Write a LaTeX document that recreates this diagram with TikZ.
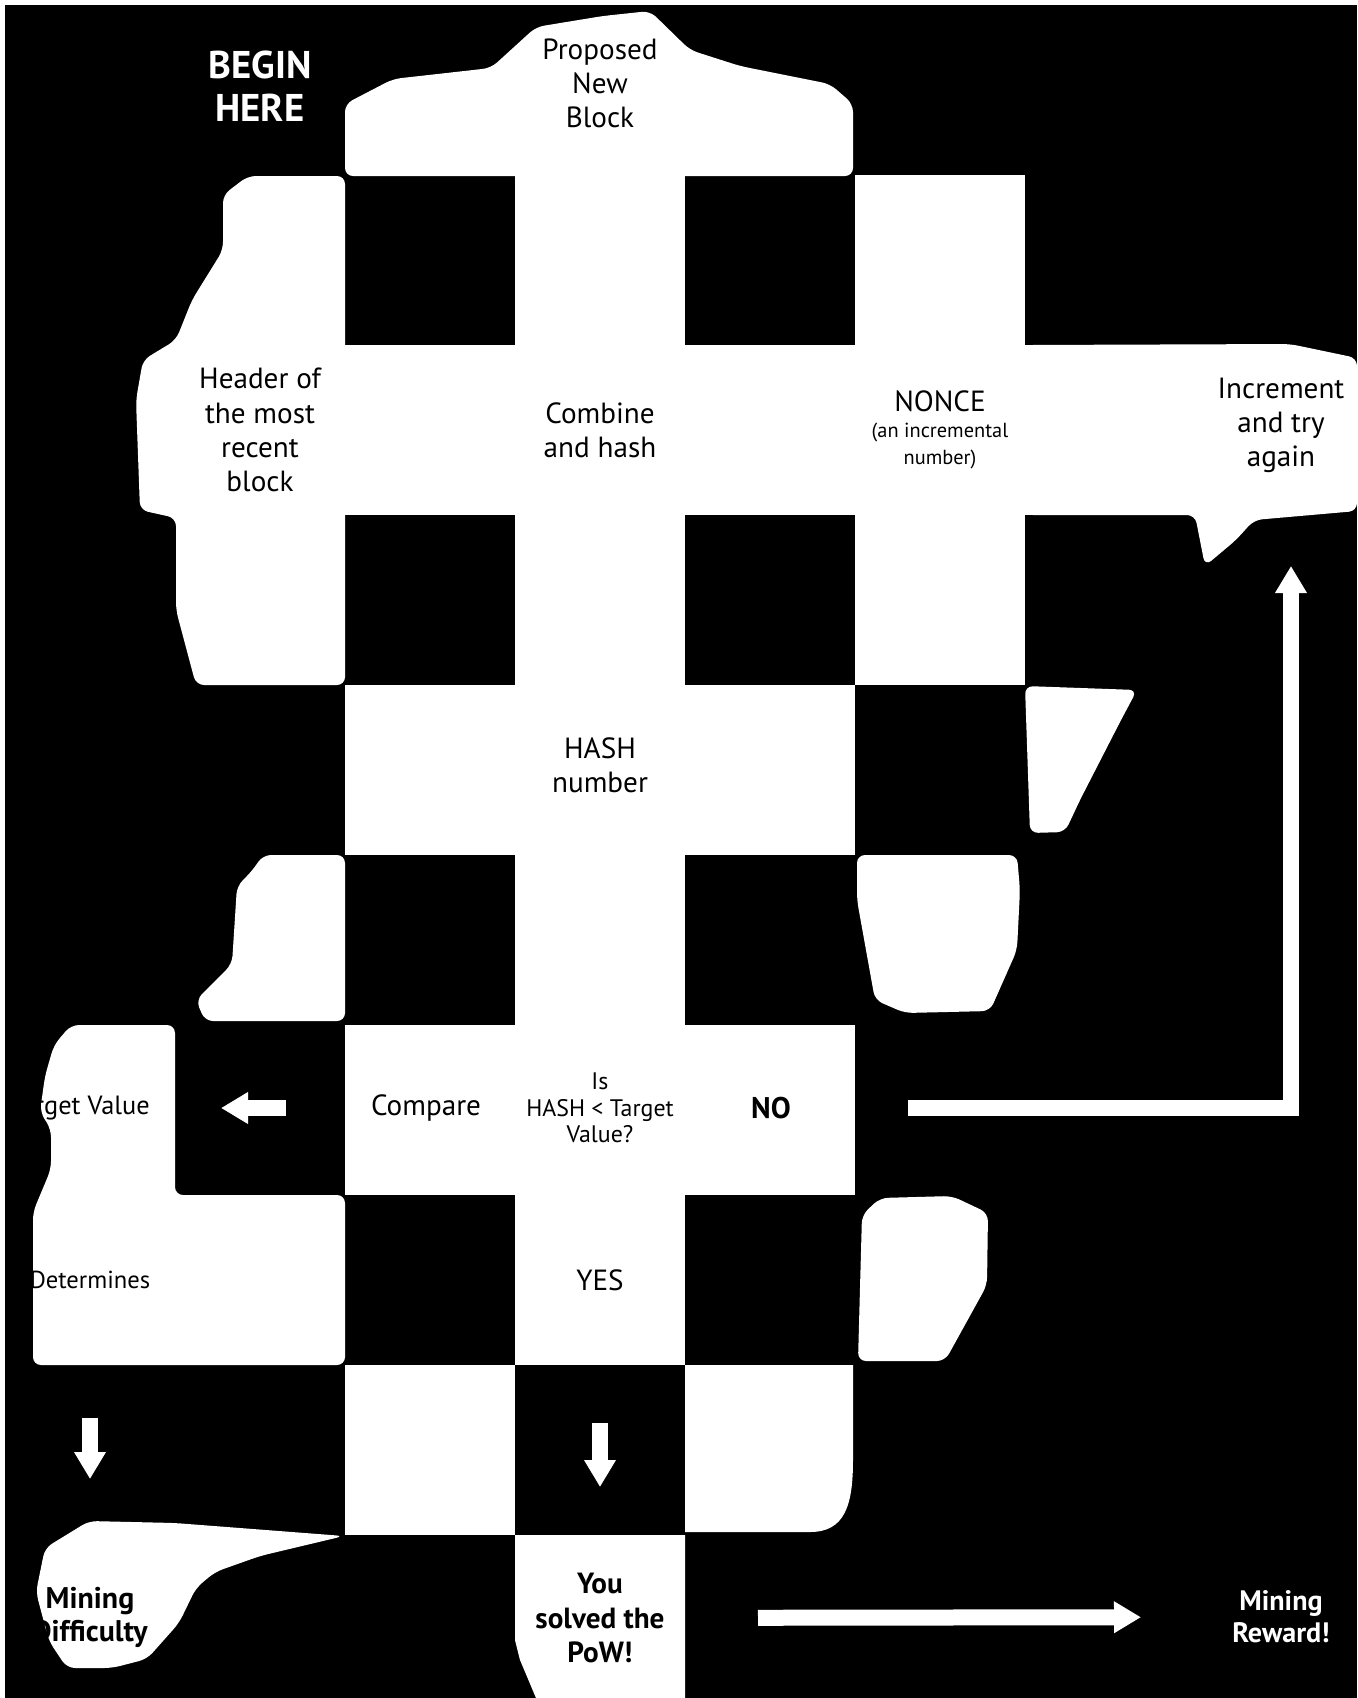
\documentclass[tikz,border=0pt]{standalone}
\usepackage{fontspec}
\setmainfont{PT Sans}
\usetikzlibrary{
    arrows.meta
}

\begin{document}
\begin{tikzpicture}[
    x=0.1mm,
    y=-0.1mm,
    paper/.style={
        fill=white
    },
    blob/.style={
        fill=white,
        rounded corners=0.8mm
    },
    cell/.style={
        align=center,
        inner sep=0pt,
        text=black,
        font=\fontsize{8.3}{9.7}\selectfont
    },
    smallcell/.style={
        cell,
        font=\fontsize{6.8}{7.5}\selectfont
    },
    heavy/.style={
        cell,
        font=\bfseries\fontsize{8.5}{9.4}\selectfont
    },
    inverse/.style={
        align=center,
        inner sep=0pt,
        text=white,
        font=\bfseries\fontsize{11}{12.2}\selectfont
    },
    flow/.style={
        draw=white,
        line width=1.6mm,
        -{Triangle[width=3mm,length=2.7mm]}
    }
]

\useasboundingbox (0,0) rectangle (1357,1698);
\clip (0,0) rectangle (1357,1698);
\fill[white] (0,0) rectangle (1357,1698);
\fill[black] (5,5) rectangle (1357,1698);

\fill[paper] (175,345) rectangle (1195,515);
\fill[paper] (515,175) rectangle (685,1365);
\fill[paper] (855,175) rectangle (1025,685);
\fill[paper] (345,685) rectangle (855,855);
\fill[paper] (345,1025) rectangle (855,1195);
\fill[paper] (345,1365) rectangle (515,1535);
\fill[paper] (685,1365) -- (853,1365) -- (853,1460)
    .. controls (853,1505) and (845,1532) .. (810,1532) -- (685,1532) -- cycle;
\fill[paper] (515,1535) -- (685,1535) -- (685,1698) -- (536,1698)
    -- (520,1660) -- (515,1640) -- cycle;

\fill[blob] (345,176) -- (345,104) -- (393,79) -- (491,68) -- (536,27)
    -- (603,16) -- (650,11) -- (690,50) -- (740,66) -- (830,84)
    -- (853,104) -- (853,176) -- cycle;
\fill[blob] (248,176) -- (345,176) -- (345,685) -- (196,685) -- (176,610)
    -- (176,518) -- (140,510) -- (136,400) -- (143,360) -- (176,340)
    -- (192,300) -- (223,250) -- (223,195) -- cycle;
\fill[blob] (1025,345) -- (1290,344) -- (1357,358) -- (1357,511)
    -- (1254,520) -- (1236,540) -- (1205,566) -- (1195,515)
    -- (1025,515) -- cycle;
\fill[blob] (263,855) -- (345,855) -- (345,1021) -- (205,1021)
    -- (196,1000) -- (232,964) -- (237,886) -- (252,871) -- cycle;
\fill[blob] (857,855) -- (1017,855) -- (1020,890) -- (1017,950)
    -- (990,1011) -- (905,1013) -- (875,1000) -- (857,900) -- cycle;
\fill[blob] (1025,686) -- (1137,690) -- (1120,722) -- (1080,800)
    -- (1065,832) -- (1030,833) -- cycle;
\fill[blob] (862,1215) -- (880,1198) -- (952,1196) -- (988,1213)
    -- (987,1285) -- (945,1361) -- (858,1361) -- cycle;
\fill[blob] (71,1025) -- (175,1025) -- (175,1195) -- (345,1195)
    -- (345,1365) -- (33,1365) -- (33,1212) -- (51,1169)
    -- (51,1129) -- (40,1112) -- (45,1076) -- (54,1045) -- cycle;
\fill[blob] (89,1521) -- (175,1523) -- (344,1536) -- (260,1556)
    -- (215,1572) -- (196,1588) -- (179,1623) -- (147,1659)
    -- (112,1668) -- (67,1668) -- (49,1641) -- (36,1592)
    -- (45,1548) -- cycle;

\node[inverse] (begin) at (260,86) {BEGIN\\HERE};
\node[cell] (proposed) at (600,83) {Proposed\\New\\Block};
\node[cell] (header) at (260,430) {Header of\\the most\\recent\\block};
\node[cell] (combine) at (600,430) {Combine\\and hash};
\node[cell] (nonce) at (940,430)
    {NONCE\\[-2.3pt]{\fontsize{5.8}{7}\selectfont (an incremental}\\[-2pt]{\fontsize{5.8}{7}\selectfont number)}};
\node[cell] (increment) at (1281,425) {Increment\\and try\\again};
\node[cell] (hashnum) at (600,765) {HASH\\number};
\node[cell, font=\fontsize{7.5}{9}\selectfont] (target) at (80,1108) {Target Value};
\node[cell] (compare) at (426,1108) {Compare};
\node[smallcell] (question) at (600,1108) {Is\\HASH < Target\\Value?};
\node[heavy] (no) at (771,1108) {NO};
\node[cell, font=\fontsize{7}{8}\selectfont] (determines) at (90,1280) {Determines};
\node[cell] (yes) at (600,1280) {YES};
\node[heavy] (difficulty) at (90,1617) {Mining\\Difficulty};
\node[heavy, font=\bfseries\fontsize{8.3}{9.7}\selectfont] (solved) at (600,1618)
    {You\\solved the\\PoW!};
\node[inverse, font=\bfseries\fontsize{8}{9.2}\selectfont] (reward) at (1281,1617)
    {Mining\\Reward!};

\coordinate (retry) at (1291,566);

\draw[flow, shorten <=14mm, shorten >=14.1mm] (compare.center) -- (target.center);
\draw[flow, shorten <=13.8mm, shorten >=13.8mm] (determines.center) -- (difficulty.center);
\draw[flow, shorten <=14.3mm, shorten >=13.1mm] (yes.center) -- (solved.center);
\draw[flow, shorten <=15.8mm, shorten >=14mm] (solved.center) -- (reward.center);
\draw[flow, shorten <=13.7mm] (no.center) -| (retry);

\end{tikzpicture}
\end{document}
